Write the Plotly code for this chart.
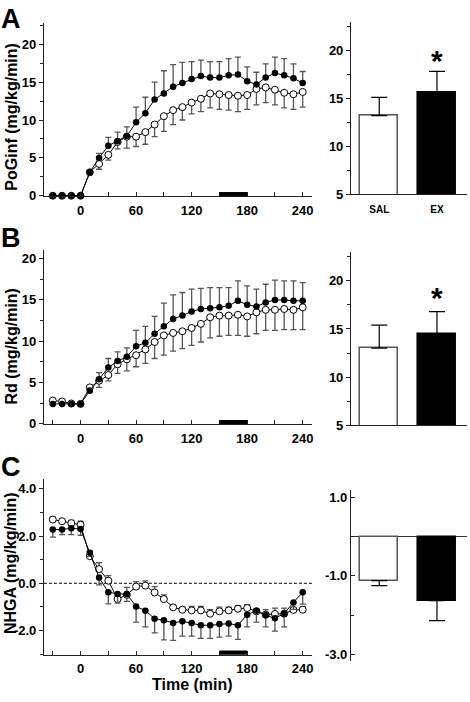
import plotly.graph_objects as go

# ---------------- data ----------------
time_min = [-30, -20, -10, 0, 10, 20, 30, 40, 50, 60, 70, 80, 90, 100, 110, 120,
            130, 140, 150, 160, 170, 180, 190, 200, 210, 220, 230, 240]
clamp_period = [150, 180]

# Panel A: PoGinf
A_ex = [0, 0, 0, 0, 3.1, 5.0, 6.6, 7.2, 7.9, 9.7, 10.9, 12.7, 13.5, 14.4, 14.9, 15.4,
        15.8, 15.6, 15.6, 15.9, 16.0, 15.1, 14.7, 15.6, 16.2, 15.9, 15.5, 14.9]
A_ex_se = [0, 0, 0, 0, 0.35, 0.6, 1.1, 1.2, 1.2, 2.0, 2.1, 2.3, 3.0, 2.9, 2.7, 2.3,
           2.1, 2.1, 2.1, 2.2, 2.3, 1.9, 1.6, 1.8, 2.1, 2.2, 1.9, 1.5]
A_sal = [0, 0, 0, 0, 3.1, 4.2, 5.4, 7.1, 7.8, 7.8, 8.4, 9.4, 10.5, 11.3, 11.7, 12.3,
         12.8, 13.5, 13.4, 13.3, 13.2, 13.3, 14.1, 14.3, 14.0, 13.6, 13.4, 13.7]
A_sal_se = [0, 0, 0, 0, 0.3, 0.7, 0.7, 0.9, 1.5, 1.3, 1.6, 1.6, 2.0, 1.9, 1.7, 1.5,
            1.7, 1.9, 2.0, 2.0, 2.1, 1.9, 2.1, 2.0, 2.0, 2.0, 2.0, 2.0]

# Panel B: Rd
B_ex = [2.4, 2.4, 2.4, 2.4, 4.0, 5.4, 6.8, 7.6, 8.1, 9.4, 9.8, 10.9, 11.8, 12.7, 13.1, 13.6,
        13.9, 14.0, 14.1, 14.3, 14.9, 14.4, 14.2, 14.7, 15.0, 15.0, 14.9, 14.9]
B_ex_se = [0, 0, 0, 0, 0.3, 0.8, 1.1, 1.1, 1.1, 1.9, 2.0, 2.1, 2.8, 2.9, 2.8, 2.7,
           2.5, 2.5, 2.4, 2.2, 2.4, 2.3, 2.1, 2.2, 2.4, 2.3, 2.4, 2.2]
B_sal = [2.8, 2.7, 2.45, 2.4, 4.4, 5.2, 5.9, 7.2, 7.8, 8.3, 9.0, 9.9, 10.7, 11.0, 11.2, 11.6,
         12.1, 12.9, 13.1, 13.1, 13.2, 13.0, 13.5, 13.8, 13.8, 13.9, 13.8, 14.1]
B_sal_se = [0, 0, 0, 0, 0.4, 0.8, 0.7, 1.1, 1.4, 1.4, 1.7, 2.0, 2.4, 2.2, 2.1, 2.1,
            2.2, 2.5, 2.5, 2.4, 2.5, 2.4, 2.6, 2.5, 2.5, 2.5, 2.4, 2.7]

# Panel C: NHGA
C_ex = [2.28, 2.28, 2.33, 2.3, 1.29, 0.24, -0.38, -0.45, -0.46, -0.98, -1.16, -1.5, -1.57,
        -1.68, -1.61, -1.68, -1.78, -1.78, -1.73, -1.71, -1.78, -1.33, -1.16, -1.36, -1.48,
        -1.29, -0.81, -0.38]
C_ex_se = [0.32, 0.22, 0.27, 0.27, 0.15, 0.31, 0.49, 0.39, 0.31, 0.67, 0.69, 0.6, 0.83,
           0.74, 0.63, 0.56, 0.56, 0.56, 0.55, 0.53, 0.6, 0.52, 0.49, 0.49, 0.55, 0.56,
           0.3, 0.5]
C_sal = [2.7, 2.63, 2.55, 2.48, 1.15, 0.6, 0.11, -0.67, -0.49, -0.14, -0.1, -0.39, -0.67,
         -1.02, -1.12, -1.15, -1.15, -1.29, -1.19, -1.15, -1.08, -1.05, -1.19, -1.33, -1.3,
         -1.29, -1.13, -1.12]
C_sal_se = [0.1, 0.1, 0.11, 0.15, 0.22, 0.27, 0.21, 0.14, 0.32, 0.21, 0.2, 0.25, 0.18,
            0.11, 0.1, 0.17, 0.17, 0.17, 0.18, 0.14, 0.13, 0.14, 0.11, 0.21, 0.25, 0.24,
            0.08, 0.12]

# Bar summaries
bar_groups = ["SAL", "EX"]
A_bar = [13.2, 15.6]
A_bar_se = [1.9, 2.2]
B_bar = [13.0, 14.45]
B_bar_se = [2.4, 2.35]
C_bar = [-1.12, -1.63]
C_bar_se = [0.13, 0.51]

# tick labels for NHGA axes (hyphen-minus as in the original)
C_line_ticks = [4.0, 2.0, 0.0, -2.0]
C_line_ticklabels = ["4.0", "2.0", "0.0", "-2.0"]
C_bar_ticks = [1.0, -1.0, -3.0]
C_bar_ticklabels = ["1.0", "-1.0", "-3.0"]

# ---------------- layout helpers ----------------
W, H = 470, 702
FONT = "Arial, Liberation Sans, sans-serif"


def fx(px):
    return px / W


def fy(py):
    return 1 - py / H


zeros = [0] * len(time_min)
fig = go.Figure()


def add_line_panel(n, sal, sal_se, ex, ex_se, sal_up):
    xa = "x" if n == 1 else f"x{n}"
    ya = "y" if n == 1 else f"y{n}"
    sal_err = dict(type="data", symmetric=False,
                   array=sal_se if sal_up else zeros,
                   arrayminus=zeros if sal_up else sal_se,
                   color="#555", thickness=1.3, width=3)
    ex_err = dict(type="data", symmetric=False,
                  array=zeros if sal_up else ex_se,
                  arrayminus=ex_se if sal_up else zeros,
                  color="#555", thickness=1.3, width=3)
    fig.add_trace(go.Scatter(x=time_min, y=sal, mode="lines+markers", xaxis=xa, yaxis=ya,
                             line=dict(color="black", width=1),
                             marker=dict(symbol="circle", size=7, color="white",
                                         line=dict(color="black", width=1)),
                             error_y=sal_err, cliponaxis=False, showlegend=False))
    fig.add_trace(go.Scatter(x=time_min, y=ex, mode="lines+markers", xaxis=xa, yaxis=ya,
                             line=dict(color="black", width=1),
                             marker=dict(symbol="circle", size=6.5, color="black"),
                             error_y=ex_err, cliponaxis=False, showlegend=False))
    fig.add_shape(type="rect", xref=xa, yref=f"{ya} domain", x0=clamp_period[0],
                  x1=clamp_period[1], y0=0.0, y1=0.024, fillcolor="black",
                  line=dict(width=0), layer="above")


def add_bar_panel(n, vals, se, down):
    xa = f"x{n}"
    ya = f"y{n}"
    err = dict(type="data", symmetric=False,
               array=[0, 0] if down else se,
               arrayminus=se if down else [0, 0],
               color="black", thickness=1.2, width=8)
    fig.add_trace(go.Bar(x=[1, 2], y=vals, width=0.66, xaxis=xa, yaxis=ya,
                         marker=dict(color=["white", "black"],
                                     line=dict(color=["#555", "black"], width=1.5)),
                         error_y=err, showlegend=False))


add_line_panel(1, A_sal, A_sal_se, A_ex, A_ex_se, sal_up=False)
add_bar_panel(2, A_bar, A_bar_se, down=False)
add_line_panel(3, B_sal, B_sal_se, B_ex, B_ex_se, sal_up=False)
add_bar_panel(4, B_bar, B_bar_se, down=False)
add_line_panel(5, C_sal, C_sal_se, C_ex, C_ex_se, sal_up=True)
add_bar_panel(6, C_bar, C_bar_se, down=True)

# dashed zero line in C
fig.add_shape(type="line", xref="x5 domain", yref="y5", x0=0, x1=1, y0=0, y1=0,
              line=dict(color="black", width=1, dash="3px,2px"), layer="below")

tickfont = dict(family=FONT, size=13, color="black", weight="bold")
axis_common = dict(showline=True, linecolor="#222", linewidth=1, showgrid=False,
                   zeroline=False, tickfont=tickfont, tickcolor="#222", ticklen=4)


def line_xaxis(anchor):
    return dict(axis_common, domain=[fx(44), fx(313)], anchor=anchor,
                range=[-39.6, 250.4], tick0=0, dtick=60, ticks="inside",
                ticklabelstandoff=2,
                minor=dict(tick0=0, dtick=30, ticks="inside", ticklen=4, tickcolor="#222"))


def bar_xaxis(anchor, labels, showline=True):
    return dict(axis_common, domain=[fx(351.7), fx(468)], anchor=anchor,
                range=[0.51, 2.52], tickvals=[1, 2], ticktext=labels,
                showticklabels=labels is not None, ticks="", showline=showline,
                ticklabelstandoff=6,
                tickfont=dict(family=FONT, size=10, color="black", weight="bold"))


fig.update_layout(
    width=W, height=H, margin=dict(l=0, r=0, t=0, b=0),
    paper_bgcolor="white", plot_bgcolor="white",
    font=dict(family=FONT, color="black"),
    bargap=0,
    xaxis=line_xaxis("y"),
    yaxis=dict(axis_common, domain=[fy(198.4), fy(23.3)], anchor="x",
               range=[-0.05, 22.8], tick0=0, dtick=5, ticks="outside",
               minor=dict(tick0=0, dtick=2.5, ticks="outside", ticklen=3, tickcolor="#222")),
    xaxis2=bar_xaxis("y2", bar_groups),
    yaxis2=dict(axis_common, domain=[fy(196.7), fy(22.7)], anchor="x2",
                range=[5, 22.9], tick0=5, dtick=5, ticks="outside",
                minor=dict(tick0=5, dtick=2.5, ticks="outside", ticklen=3, tickcolor="#222")),
    xaxis3=line_xaxis("y3"),
    yaxis3=dict(axis_common, domain=[fy(429), fy(253.3)], anchor="x3",
                range=[-0.05, 21], tick0=0, dtick=5, ticks="outside",
                minor=dict(tick0=0, dtick=2.5, ticks="outside", ticklen=3, tickcolor="#222")),
    xaxis4=bar_xaxis("y4", None),
    yaxis4=dict(axis_common, domain=[fy(430), fy(255)], anchor="x4",
                range=[5, 23], tick0=5, dtick=5, ticks="outside",
                minor=dict(tick0=5, dtick=2.5, ticks="outside", ticklen=3, tickcolor="#222")),
    xaxis5=line_xaxis("y5"),
    yaxis5=dict(axis_common, domain=[fy(662.3), fy(485)], anchor="x5",
                range=[-3.03, 4.4], tickvals=C_line_ticks, ticktext=C_line_ticklabels,
                ticks="outside",
                minor=dict(tick0=0, dtick=1, ticks="outside", ticklen=3, tickcolor="#222")),
    xaxis6=bar_xaxis("y6", None, showline=False),
    yaxis6=dict(axis_common, domain=[fy(669), fy(495.7)], anchor="x6",
                range=[-3.18, 1.19], tickvals=C_bar_ticks, ticktext=C_bar_ticklabels,
                ticks="inside",
                zeroline=True, zerolinecolor="#333", zerolinewidth=1.2,
                minor=dict(tick0=1, dtick=1, ticks="inside", ticklen=3, tickcolor="#222")),
)

ann = []
# panel letters
for letter, py in [("A", 19), ("B", 241), ("C", 472)]:
    ann.append(dict(text=letter, x=fx(11), y=fy(py), xref="paper", yref="paper",
                    showarrow=False, xanchor="center", yanchor="middle",
                    font=dict(family=FONT, size=27, color="black", weight="bold")))
# y titles
for title, px, py in [("PoGinf (mg/kg/min)", 11.5, 117.5), ("Rd (mg/kg/min)", 11.5, 350),
                      ("NHGA (mg/kg/min)", 10.5, 569)]:
    ann.append(dict(text=title, x=fx(px), y=fy(py), xref="paper", yref="paper",
                    showarrow=False, textangle=-90, xanchor="center", yanchor="middle",
                    font=dict(family=FONT, size=16, color="black", weight="bold")))
# x title
ann.append(dict(text="Time (min)", x=fx(192.5), y=fy(692.5), xref="paper", yref="paper",
                showarrow=False, xanchor="center", yanchor="middle",
                font=dict(family=FONT, size=16, color="black", weight="bold")))
# significance asterisks
for xa, ya, yv in [("x2", "y2", 19.4), ("x4", "y4", 18.7)]:
    ann.append(dict(text="*", x=2, y=yv, xref=xa, yref=ya, showarrow=False,
                    xanchor="center", yanchor="middle", yshift=-4,
                    font=dict(family=FONT, size=30, color="black", weight="bold")))
fig.update_layout(annotations=ann)

fig.write_html("out.html", config={"displayModeBar": False},
               post_script="document.body.style.margin='0px';"
                           "document.body.style.overflow='hidden';")
